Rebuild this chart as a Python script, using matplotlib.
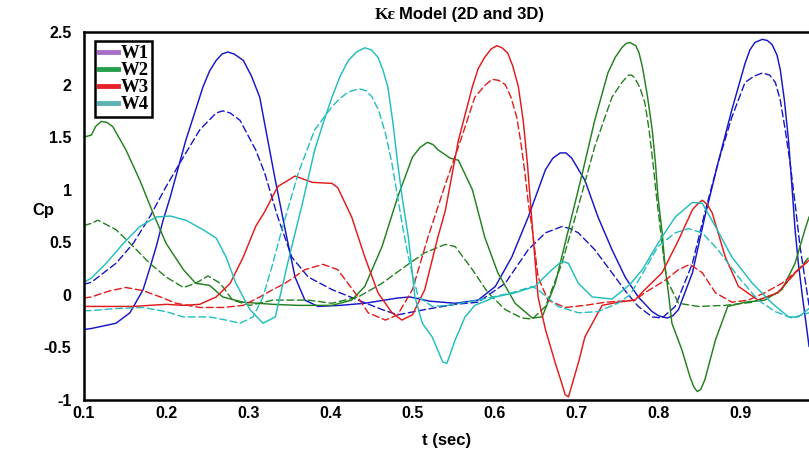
import matplotlib.pyplot as plt
from matplotlib.lines import Line2D

# -----------------------------
# data: (t, Cp)
# solid = first set of curves, dashed = second set
# -----------------------------
w1_solid = [(0.100, -0.33), (0.109, -0.32), (0.139, -0.27), (0.156, -0.17), (0.172, 0.05),
            (0.180, 0.25), (0.188, 0.46), (0.196, 0.70), (0.205, 0.93), (0.224, 1.47),
            (0.245, 1.98), (0.253, 2.13), (0.261, 2.23), (0.268, 2.29), (0.275, 2.31),
            (0.283, 2.29), (0.294, 2.23), (0.304, 2.08), (0.314, 1.88), (0.320, 1.63),
            (0.333, 1.09), (0.345, 0.62), (0.357, 0.17), (0.369, -0.05), (0.385, -0.11),
            (0.412, -0.10), (0.442, -0.08), (0.482, -0.03), (0.497, -0.02), (0.521, -0.06),
            (0.552, -0.08), (0.580, -0.05), (0.601, 0.08), (0.621, 0.36), (0.641, 0.74),
            (0.662, 1.19), (0.671, 1.30), (0.680, 1.35), (0.687, 1.35), (0.694, 1.30),
            (0.710, 1.09), (0.726, 0.74), (0.743, 0.43), (0.759, 0.17), (0.775, -0.02),
            (0.792, -0.16), (0.800, -0.20), (0.810, -0.22), (0.817, -0.20), (0.824, -0.14),
            (0.841, 0.21), (0.856, 0.74), (0.872, 1.25), (0.889, 1.76), (0.905, 2.20),
            (0.911, 2.33), (0.917, 2.40), (0.926, 2.43), (0.932, 2.42), (0.938, 2.38),
            (0.944, 2.28), (0.948, 2.14), (0.953, 1.85), (0.958, 1.47), (0.962, 1.05),
            (0.966, 0.62), (0.970, 0.30), (0.975, -0.02), (0.979, -0.25), (0.983, -0.49)]
w1_dashed = [(0.100, 0.10), (0.109, 0.12), (0.139, 0.30), (0.160, 0.49), (0.180, 0.74),
             (0.200, 1.03), (0.221, 1.31), (0.241, 1.57), (0.261, 1.73), (0.269, 1.75),
             (0.278, 1.73), (0.290, 1.66), (0.309, 1.38), (0.320, 1.16), (0.336, 0.74),
             (0.353, 0.36), (0.373, 0.17), (0.402, 0.05), (0.434, -0.05), (0.463, -0.14),
             (0.482, -0.19), (0.515, -0.14), (0.552, -0.09), (0.580, -0.07), (0.613, 0.11),
             (0.641, 0.43), (0.662, 0.59), (0.682, 0.65), (0.692, 0.63), (0.702, 0.59),
             (0.722, 0.43), (0.743, 0.21), (0.761, 0.02), (0.775, -0.11), (0.792, -0.21),
             (0.804, -0.22), (0.820, -0.11), (0.841, 0.30), (0.856, 0.78), (0.872, 1.25),
             (0.889, 1.69), (0.905, 2.02), (0.916, 2.08), (0.926, 2.11), (0.935, 2.09),
             (0.942, 2.02), (0.948, 1.85), (0.954, 1.57), (0.960, 1.25), (0.966, 0.87),
             (0.972, 0.46), (0.983, -0.10)]

w2_solid = [(0.100, 1.50), (0.109, 1.52), (0.114, 1.60), (0.121, 1.65), (0.128, 1.64),
            (0.135, 1.60), (0.151, 1.38), (0.168, 1.09), (0.184, 0.78), (0.200, 0.49),
            (0.221, 0.24), (0.236, 0.11), (0.253, 0.09), (0.269, -0.02), (0.294, -0.07),
            (0.330, -0.09), (0.361, -0.10), (0.402, -0.10), (0.426, -0.05), (0.442, 0.08),
            (0.463, 0.46), (0.482, 0.93), (0.500, 1.31), (0.509, 1.40), (0.518, 1.45),
            (0.525, 1.43), (0.531, 1.38), (0.546, 1.30), (0.556, 1.28), (0.573, 1.00),
            (0.588, 0.55), (0.604, 0.21), (0.625, -0.08), (0.646, -0.22), (0.658, -0.21),
            (0.674, 0.11), (0.690, 0.62), (0.707, 1.16), (0.722, 1.66), (0.738, 2.11),
            (0.747, 2.26), (0.755, 2.35), (0.760, 2.39), (0.765, 2.40), (0.772, 2.37),
            (0.776, 2.30), (0.780, 2.17), (0.786, 1.90), (0.792, 1.57), (0.796, 1.25),
            (0.799, 0.93), (0.804, 0.60), (0.808, 0.24), (0.812, 0.00), (0.816, -0.27),
            (0.828, -0.52), (0.838, -0.78), (0.843, -0.88), (0.847, -0.92), (0.851, -0.90),
            (0.856, -0.81), (0.869, -0.43), (0.884, -0.11), (0.905, -0.07), (0.929, -0.05),
            (0.950, 0.05), (0.966, 0.30), (0.978, 0.62), (0.983, 0.74)]
w2_dashed = [(0.100, 0.66), (0.109, 0.68), (0.117, 0.71), (0.139, 0.62), (0.160, 0.46),
             (0.180, 0.30), (0.200, 0.17), (0.221, 0.07), (0.236, 0.11), (0.251, 0.18),
             (0.266, 0.11), (0.281, -0.05), (0.302, -0.10), (0.330, -0.05), (0.373, -0.05),
             (0.402, -0.08), (0.434, -0.02), (0.463, 0.11), (0.491, 0.27), (0.515, 0.40),
             (0.540, 0.48), (0.552, 0.46), (0.573, 0.24), (0.592, 0.02), (0.613, -0.14),
             (0.633, -0.22), (0.646, -0.23), (0.662, -0.11), (0.682, 0.30), (0.702, 0.84),
             (0.722, 1.41), (0.743, 1.88), (0.755, 2.02), (0.763, 2.09), (0.767, 2.09),
             (0.771, 2.06), (0.777, 1.97), (0.783, 1.83), (0.788, 1.58), (0.793, 1.25),
             (0.797, 0.95), (0.802, 0.62), (0.806, 0.35), (0.810, 0.14), (0.824, -0.08),
             (0.848, -0.11), (0.881, -0.10), (0.914, -0.07), (0.945, 0.02), (0.970, 0.24),
             (0.983, 0.36)]

w3_solid = [(0.100, -0.11), (0.109, -0.11), (0.160, -0.11), (0.200, -0.09), (0.221, -0.10),
            (0.241, -0.09), (0.261, -0.02), (0.278, 0.11), (0.294, 0.36), (0.309, 0.65),
            (0.320, 0.79), (0.336, 1.03), (0.357, 1.13), (0.378, 1.07), (0.402, 1.06),
            (0.409, 1.02), (0.426, 0.74), (0.442, 0.36), (0.458, 0.02), (0.475, -0.17),
            (0.487, -0.24), (0.500, -0.19), (0.515, 0.05), (0.531, 0.55), (0.540, 0.80),
            (0.556, 1.47), (0.573, 1.98), (0.580, 2.15), (0.588, 2.26), (0.596, 2.34),
            (0.603, 2.37), (0.609, 2.35), (0.616, 2.30), (0.622, 2.18), (0.629, 1.98),
            (0.635, 1.65), (0.640, 1.25), (0.647, 0.55), (0.653, -0.02), (0.662, -0.33),
            (0.674, -0.65), (0.681, -0.82), (0.686, -0.95), (0.690, -0.97), (0.696, -0.81),
            (0.703, -0.62), (0.710, -0.40), (0.731, -0.10), (0.750, -0.07), (0.771, -0.05),
            (0.783, 0.05), (0.804, 0.21), (0.824, 0.52), (0.841, 0.81), (0.848, 0.87),
            (0.853, 0.90), (0.859, 0.86), (0.865, 0.78), (0.881, 0.36), (0.897, 0.08),
            (0.921, -0.05), (0.945, 0.02), (0.966, 0.21), (0.983, 0.33)]
w3_dashed = [(0.100, -0.03), (0.109, -0.02), (0.132, 0.04), (0.151, 0.07), (0.172, 0.04),
             (0.193, -0.02), (0.212, -0.08), (0.241, -0.12), (0.269, -0.12), (0.294, -0.10),
             (0.314, -0.02), (0.330, 0.05), (0.345, 0.11), (0.369, 0.24), (0.391, 0.29),
             (0.409, 0.24), (0.430, 0.02), (0.446, -0.17), (0.467, -0.24), (0.482, -0.19),
             (0.500, 0.05), (0.519, 0.55), (0.540, 1.05), (0.560, 1.50), (0.576, 1.88),
             (0.588, 1.99), (0.597, 2.05), (0.605, 2.04), (0.613, 2.00), (0.620, 1.88),
             (0.627, 1.69), (0.632, 1.45), (0.637, 1.16), (0.641, 0.88), (0.646, 0.62),
             (0.653, 0.17), (0.665, -0.05), (0.686, -0.12), (0.710, -0.10), (0.735, -0.07),
             (0.771, -0.05), (0.783, 0.02), (0.808, 0.14), (0.824, 0.24), (0.838, 0.29),
             (0.853, 0.21), (0.869, 0.02), (0.889, -0.07), (0.909, -0.05), (0.929, 0.02),
             (0.950, 0.11), (0.970, 0.24), (0.983, 0.33)]

w4_solid = [(0.100, 0.12), (0.109, 0.16), (0.127, 0.30), (0.148, 0.49), (0.168, 0.65),
            (0.188, 0.74), (0.205, 0.75), (0.224, 0.71), (0.245, 0.62), (0.261, 0.54),
            (0.273, 0.36), (0.285, 0.11), (0.302, -0.14), (0.318, -0.27), (0.333, -0.21),
            (0.348, 0.30), (0.366, 0.87), (0.381, 1.38), (0.392, 1.65), (0.402, 1.88),
            (0.412, 2.08), (0.422, 2.23), (0.432, 2.31), (0.442, 2.35), (0.450, 2.33),
            (0.458, 2.26), (0.464, 2.14), (0.470, 1.98), (0.476, 1.65), (0.482, 1.25),
            (0.488, 0.90), (0.495, 0.55), (0.503, -0.02), (0.512, -0.27), (0.524, -0.40),
            (0.537, -0.64), (0.542, -0.65), (0.552, -0.43), (0.564, -0.21), (0.576, -0.10),
            (0.601, -0.02), (0.625, 0.02), (0.649, 0.08), (0.670, 0.24), (0.682, 0.32),
            (0.690, 0.30), (0.702, 0.11), (0.719, -0.02), (0.743, -0.04), (0.765, 0.10),
            (0.780, 0.24), (0.799, 0.49), (0.820, 0.74), (0.841, 0.88), (0.853, 0.87),
            (0.869, 0.65), (0.889, 0.36), (0.914, 0.11), (0.938, -0.08), (0.958, -0.21),
            (0.970, -0.21), (0.983, -0.13)]
w4_dashed = [(0.100, -0.15), (0.109, -0.15), (0.139, -0.13), (0.172, -0.12), (0.200, -0.16),
             (0.221, -0.21), (0.253, -0.21), (0.273, -0.24), (0.290, -0.27), (0.306, -0.21),
             (0.318, -0.02), (0.330, 0.30), (0.341, 0.62), (0.361, 1.16), (0.381, 1.57),
             (0.402, 1.79), (0.412, 1.87), (0.422, 1.93), (0.435, 1.96), (0.444, 1.94),
             (0.451, 1.88), (0.459, 1.75), (0.467, 1.54), (0.475, 1.25), (0.482, 0.93),
             (0.488, 0.65), (0.495, 0.36), (0.507, -0.02), (0.524, -0.11), (0.543, -0.10),
             (0.580, -0.05), (0.621, 0.02), (0.646, 0.08), (0.653, 0.05), (0.677, -0.11),
             (0.702, -0.17), (0.726, -0.16), (0.750, -0.08), (0.765, 0.00), (0.780, 0.20),
             (0.799, 0.46), (0.820, 0.59), (0.836, 0.63), (0.853, 0.59), (0.872, 0.43),
             (0.897, 0.17), (0.921, -0.05), (0.942, -0.16), (0.962, -0.22), (0.983, -0.17)]

x_ticks = [0.1, 0.2, 0.3, 0.4, 0.5, 0.6, 0.7, 0.8, 0.9]
y_ticks = [2.5, 2, 1.5, 1, 0.5, 0, -0.5, -1]
y_tick_labels = ["2.5", "2", "1.5", "1", "0.5", "0", "-0.5", "-1"]
legend_labels = ["W1", "W2", "W3", "W4"]
legend_colors = ["#a86fc8", "#26a04c", "#e8222a", "#5db2b2"]

# -----------------------------
# styles
# -----------------------------
line_colors = {"w1": "#1616c8", "w2": "#23801f", "w3": "#e21a1a", "w4": "#22bebe"}
sans = ["Liberation Sans", "DejaVu Sans"]
serif = ["Liberation Serif", "DejaVu Serif"]

plt.rcParams["lines.scale_dashes"] = False

fig = plt.figure(figsize=(8.09, 4.54), dpi=100)
W, H = 809, 454
ax = fig.add_axes([84 / W, 54 / H, 739 / W, 368 / H])


def unzip(pts):
    return [p[0] for p in pts], [p[1] for p in pts]


series = [("w1", w1_solid, w1_dashed), ("w2", w2_solid, w2_dashed),
          ("w3", w3_solid, w3_dashed), ("w4", w4_solid, w4_dashed)]
for key, solid, dashed in series:
    c = line_colors[key]
    t, cp = unzip(dashed)
    ax.plot(t, cp, color=c, lw=1.0, dashes=(5, 2.6),
            dash_joinstyle="round", dash_capstyle="round")
    t, cp = unzip(solid)
    ax.plot(t, cp, color=c, lw=1.05, solid_joinstyle="round")

ax.set_xlim(0.1, 1.0)
ax.set_ylim(-1, 2.5)
ax.set_xticks(x_ticks)
ax.set_xticklabels([f"{v:.1f}" for v in x_ticks])
ax.set_yticks(y_ticks)
ax.set_yticklabels(y_tick_labels)
ax.tick_params(length=0)
ax.tick_params(axis="x", pad=4)
ax.tick_params(axis="y", pad=9)
for lab in ax.get_xticklabels() + ax.get_yticklabels():
    lab.set_family(sans)
    lab.set_fontweight("bold")
    lab.set_fontsize(11.5)
for sp in ax.spines.values():
    sp.set_linewidth(1.8)
    sp.set_color("black")

# legend
handles = [Line2D([], [], color=c, lw=3.5) for c in legend_colors]
leg = ax.legend(handles, legend_labels, loc="upper left",
                bbox_to_anchor=(0.015, 0.975), borderaxespad=0,
                prop={"family": serif, "weight": "bold", "size": 13.5},
                handlelength=1.0, handletextpad=0.15, labelspacing=0.0,
                borderpad=0.2, fancybox=False, framealpha=1)
leg.get_frame().set_edgecolor("black")
leg.get_frame().set_linewidth(1.8)

# title: "Kε" in serif, rest in sans
fig.text(396 / W, 1 - 15 / H, "K\u03b5", family=serif, fontweight="bold",
         fontsize=12.5, ha="right", va="center")
fig.text(399 / W, 1 - 15 / H, "Model (2D and 3D)", family=sans, fontweight="bold",
         fontsize=12, ha="left", va="center")

fig.text(43 / W, 1 - 210 / H, "Cp", family=sans, fontweight="bold",
         fontsize=12, ha="center", va="center")
fig.text(447 / W, 1 - 440 / H, "t (sec)", family=sans, fontweight="bold",
         fontsize=12, ha="center", va="center")

fig.savefig("out.png", dpi=100)
